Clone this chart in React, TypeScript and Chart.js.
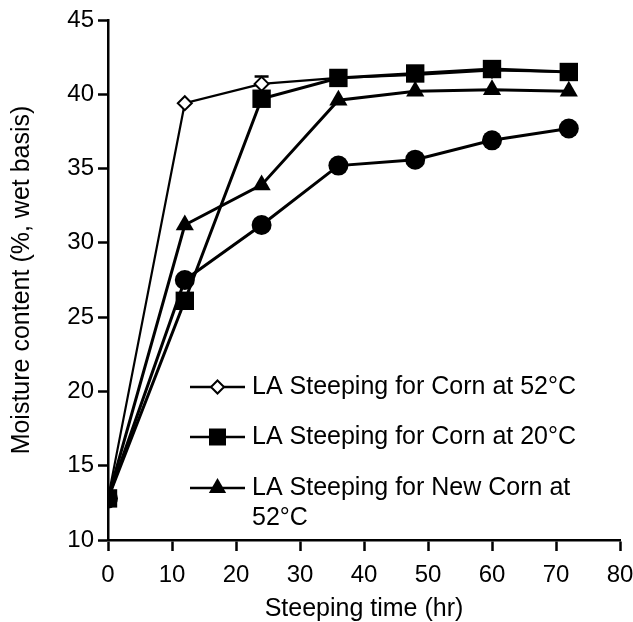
import React, { useEffect, useRef } from "react";
import { Chart, registerables } from "chart.js";

Chart.register(...registerables);

const steepHours = [0, 12, 24, 36, 48, 60, 72];
const corn52 = [12.8, 39.4, 40.7, 41.1, 41.3, 41.6, 41.5];
const corn52ErrUp = [0, 0, 0.5, 0, 0, 0, 0];
const corn20 = [12.8, 26.1, 39.7, 41.1, 41.4, 41.7, 41.5];
const newCorn52 = [12.8, 31.2, 33.9, 39.6, 40.2, 40.3, 40.2];
const unlabeledCircle = [12.8, 27.5, 31.2, 35.2, 35.6, 36.9, 37.7];

const legendLabels = [
  ["LA Steeping for Corn at 52°C"],
  ["LA Steeping for Corn at 20°C"],
  ["LA Steeping for New Corn at", "52°C"],
];
const legendMarkers = ["diamond", "square", "triangle"];

const yTicks = [10, 15, 20, 25, 30, 35, 40, 45];
const xTicks = [0, 10, 20, 30, 40, 50, 60, 70, 80];

const FONT = '"Liberation Sans", Arial, Helvetica, sans-serif';

const pts = (ys: number[]) => steepHours.map((x, i) => ({ x, y: ys[i] }));

function drawMarker(ctx: CanvasRenderingContext2D, kind: string, x: number, y: number) {
  ctx.save();
  ctx.lineWidth = 2;
  ctx.strokeStyle = "#000";
  ctx.fillStyle = "#000";
  ctx.beginPath();
  if (kind === "diamond") {
    const r = 6.5;
    ctx.moveTo(x, y - r);
    ctx.lineTo(x + r, y);
    ctx.lineTo(x, y + r);
    ctx.lineTo(x - r, y);
    ctx.closePath();
    ctx.fillStyle = "#fff";
    ctx.fill();
    ctx.stroke();
  } else if (kind === "square") {
    const s = 8.5;
    ctx.rect(x - s, y - s, 2 * s, 2 * s);
    ctx.fill();
  } else {
    const r = 10;
    ctx.moveTo(x, y - r);
    ctx.lineTo(x + r * 0.866, y + r * 0.5);
    ctx.lineTo(x - r * 0.866, y + r * 0.5);
    ctx.closePath();
    ctx.fill();
  }
  ctx.restore();
}

const customLegend = {
  id: "customLegend",
  afterDraw(chart: any) {
    const ctx: CanvasRenderingContext2D = chart.ctx;
    const { left } = chart.chartArea;
    const rowY = [387, 437, 488];
    const lineX0 = left + 82;
    const lineX1 = left + 137;
    const textX = left + 144;
    ctx.save();
    ctx.font = `25px ${FONT}`;
    ctx.textBaseline = "middle";
    ctx.textAlign = "left";
    legendLabels.forEach((lines, i) => {
      const y = rowY[i];
      ctx.strokeStyle = "#000";
      ctx.lineWidth = 2.5;
      ctx.beginPath();
      ctx.moveTo(lineX0, y);
      ctx.lineTo(lineX1, y);
      ctx.stroke();
      drawMarker(ctx, legendMarkers[i], (lineX0 + lineX1) / 2, y);
      ctx.fillStyle = "#000";
      lines.forEach((t, j) => ctx.fillText(t, textX, y + j * 30));
    });
    ctx.restore();
  },
};

const errorBars = {
  id: "errorBars",
  afterDatasetsDraw(chart: any) {
    const ctx: CanvasRenderingContext2D = chart.ctx;
    const xs = chart.scales.x;
    const ys = chart.scales.y;
    ctx.save();
    ctx.strokeStyle = "#000";
    ctx.lineWidth = 2.5;
    corn52ErrUp.forEach((e, i) => {
      if (!e) return;
      const px = xs.getPixelForValue(steepHours[i]);
      const p0 = ys.getPixelForValue(corn52[i]);
      const p1 = ys.getPixelForValue(corn52[i] + e);
      ctx.beginPath();
      ctx.moveTo(px, p0 - 6);
      ctx.lineTo(px, p1);
      ctx.moveTo(px - 7, p1);
      ctx.lineTo(px + 7, p1);
      ctx.stroke();
    });
    ctx.restore();
  },
};

export default function App() {
  const ref = useRef<HTMLCanvasElement>(null);
  useEffect(() => {
    if (!ref.current) return;
    const chart = new Chart(ref.current, {
      type: "line",
      data: {
        datasets: [
          {
            label: "LA Steeping for Corn at 20°C",
            data: pts(corn20),
            borderColor: "#000",
            backgroundColor: "#000",
            borderWidth: 3,
            pointStyle: "rect",
            pointRadius: 13,
            pointBorderWidth: 0,
            pointBackgroundColor: "#000",
            order: 0,
          },
          {
            label: "LA Steeping for Corn at 52°C",
            data: pts(corn52),
            borderColor: "#000",
            backgroundColor: "#fff",
            borderWidth: 2.2,
            pointStyle: "rectRot",
            pointRadius: 7,
            pointBorderWidth: 2,
            pointBackgroundColor: "#fff",
            order: 1,
          },
          {
            label: "LA Steeping for New Corn at 52°C",
            data: pts(newCorn52),
            borderColor: "#000",
            backgroundColor: "#000",
            borderWidth: 3,
            pointStyle: "triangle",
            pointRadius: 10.5,
            pointBorderWidth: 0,
            pointBackgroundColor: "#000",
            order: 2,
          },
          {
            label: "",
            data: pts(unlabeledCircle),
            borderColor: "#000",
            backgroundColor: "#000",
            borderWidth: 3,
            pointStyle: "circle",
            pointRadius: 10,
            pointBorderWidth: 0,
            pointBackgroundColor: "#000",
            order: 3,
          },
        ],
      },
      options: {
        responsive: false,
        animation: false,
        events: [],
        layout: { padding: { left: 0, right: 13, top: 20, bottom: 0 } },
        plugins: {
          legend: { display: false },
          tooltip: { enabled: false },
          title: { display: false },
        },
        scales: {
          x: {
            type: "linear",
            min: 0,
            max: 80,
            afterBuildTicks: (s: any) => {
              s.ticks = xTicks.map((v) => ({ value: v }));
            },
            afterFit: (s: any) => {
              s.height = 82;
              s.paddingRight = 0;
              s.paddingLeft = 0;
            },
            grid: {
              display: true,
              drawOnChartArea: false,
              drawTicks: true,
              tickLength: 11,
              tickWidth: 2.5,
              tickColor: "#000",
            },
            border: { display: true, color: "#000", width: 2.5 },
            ticks: {
              color: "#000",
              font: { family: FONT, size: 24 },
              padding: 10,
              maxRotation: 0,
              autoSkip: false,
            },
            title: {
              display: true,
              text: "Steeping time (hr)",
              color: "#000",
              font: { family: FONT, size: 25, lineHeight: 1.05 },
              padding: { top: 0, bottom: 0 },
            },
          },
          y: {
            type: "linear",
            min: 10,
            max: 45,
            afterBuildTicks: (s: any) => {
              s.ticks = yTicks.map((v) => ({ value: v }));
            },
            afterFit: (s: any) => {
              s.width = 108;
            },
            grid: {
              display: true,
              drawOnChartArea: false,
              drawTicks: true,
              tickLength: 10,
              tickWidth: 2.5,
              tickColor: "#000",
            },
            border: { display: true, color: "#000", width: 2.5 },
            ticks: {
              color: "#000",
              font: { family: FONT, size: 24 },
              padding: 4,
              autoSkip: false,
            },
            title: {
              display: true,
              text: "Moisture content (%, wet basis)",
              color: "#000",
              font: { family: FONT, size: 25 },
              padding: { top: 7, bottom: 0 },
            },
          },
        },
      },
      plugins: [errorBars, customLegend],
    } as any);
    return () => chart.destroy();
  }, []);
  return (
    <div style={{ position: "absolute", left: 0, top: 0, width: 633, height: 622, background: "#fff" }}>
      <canvas ref={ref} width={633} height={622} style={{ display: "block", width: 633, height: 622 }} />
    </div>
  );
}
